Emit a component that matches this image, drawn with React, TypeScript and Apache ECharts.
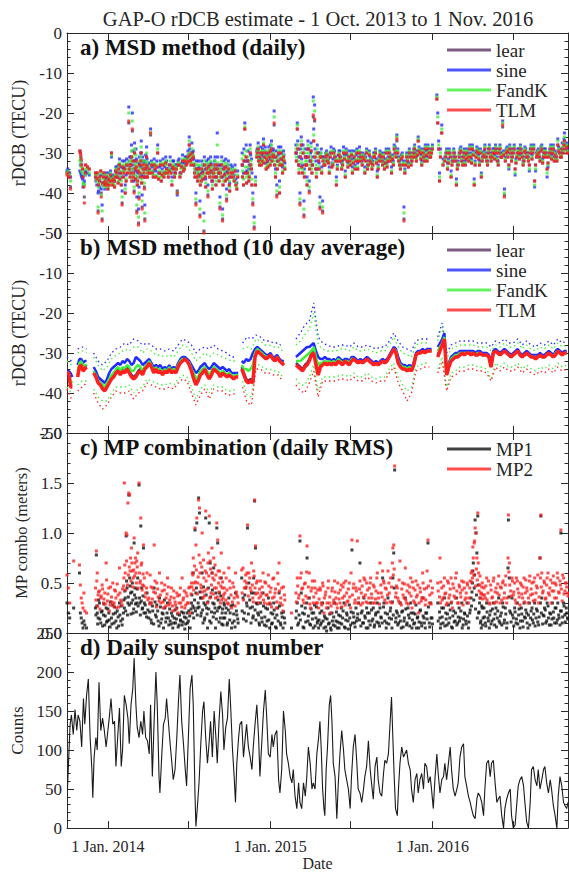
import React, { useEffect, useRef } from 'react';
import * as echarts from 'echarts';

// x values are days since 1 Oct. 2013 (axis ends 1 Nov. 2016)
const X_MAX = 1127;
const xTickDays = [92, 273, 457, 638, 822, 1004];
const xLabelDays = [92, 457, 822];
const xLabelText = ['1 Jan. 2014', '1 Jan. 2015', '1 Jan. 2016'];

const mainTitle = 'GAP-O rDCB estimate - 1 Oct. 2013 to 1 Nov. 2016';
const panelTitles = ['a) MSD method (daily)', 'b) MSD method (10 day average)', 'c) MP combination (daily RMS)', 'd) Daily sunspot number'];

const rdcbNames = ['lear', 'sine', 'FandK', 'TLM'];
const rdcbColors = ['#5a3560', '#1f2bff', '#3ff03a', '#ff1f1f'];
const mpNames = ['MP1', 'MP2'];
const mpColors = ['#111111', '#ff1f1f'];

// panel a: [day, lear, sine, FandK, TLM]
const rdcbDaily = [
  [0,-35,-34.5,-35,-35.5],[4,-35.5,-35,-35.5,-36],[8,-38.5,-36,-37,-39],
  [29,-29.5,-34.5,-32,-29.5],[31,-31,-35,-33,-30.5],[33,-33,-36,-34.5,-33],[36,-36,-38.5,-37.5,-36],[39,-41,-37,-38,-42.5],[42,-33,-34.5,-34,-33],[46,-33.5,-35,-34,-33.5],[50,-34,-35.5,-35,-34],
  [64,-35,-36,-35.5,-35],[67,-36.5,-38,-37,-36.5],[70,-44.5,-40,-43.5,-45],[73,-37,-38.5,-37.5,-37],[76,-34.5,-35.5,-35,-34.5],[79,-46.5,-43,-44.5,-47],[82,-36,-37.5,-36.5,-36],[85,-38,-39,-38.5,-38],
  [88,-37.5,-36,-37,-37.5],[91,-38,-37,-37.5,-38],[94,-36.5,-35,-36,-36.5],[97,-37,-36,-36.5,-37],[100,-30,-31,-30.5,-30],[103,-38,-36.5,-37.5,-38],[106,-37,-36,-36.5,-37],[109,-36,-34.5,-35.5,-36],[112,-35,-33.5,-34.5,-35],[115,-37.5,-36,-37,-37.5],
  [118,-33,-31.5,-32.5,-33],[121,-35,-33.5,-34.5,-35],[124,-42.5,-39.5,-41,-43],[127,-36,-34,-35,-36],[130,-34,-32,-33,-34],[133,-37,-35.5,-36.5,-37],[136,-35,-33,-34,-35],
  [139,-22.5,-18.5,-20,-22],[141,-33,-31,-32,-33],[143,-35,-33,-34,-35],[145,-31,-28,-29.5,-31],[147,-24.5,-20,-22,-24],[149,-36,-34,-35,-36],[151,-39.5,-37,-38.5,-40],[153,-34,-32,-33,-34],[155,-32,-29,-30.5,-32],[157,-44.5,-41,-43,-45],[159,-37,-35,-36,-37],[161,-47.5,-44,-46,-48],[163,-33,-31,-32,-33],[165,-36,-33.5,-35,-36],[167,-30,-27,-28.5,-30],[169,-43.5,-40.5,-42,-44],[171,-34,-32,-33,-34],[173,-35,-32.5,-34,-35],[175,-46.5,-43,-45,-47],[177,-33,-30.5,-32,-33],[179,-31,-28.5,-30,-31],[181,-36,-34,-35,-36],
  [184,-34,-32.5,-33.5,-34],[188,-25.5,-24,-25,-25],[192,-35,-33.5,-34.5,-35],[196,-33,-31.5,-32.5,-33],[200,-36,-34.5,-35.5,-36],[204,-30,-28,-29,-30],[208,-35,-33.5,-34.5,-35],[212,-37,-35,-36,-37],[216,-33,-31.5,-32.5,-33],[220,-35,-33.5,-34.5,-35],[224,-34,-32,-33,-34],[228,-36,-34,-35,-36],
  [232,-33,-31,-32,-33],[236,-38,-36,-37,-38],[240,-34,-32,-33,-34],[244,-35,-33,-34,-35],[248,-39.5,-40.5,-40,-40],[252,-33,-31.5,-32.5,-33],[256,-35,-33,-34,-35],[260,-32,-30.5,-31.5,-32],[264,-34,-32.5,-33.5,-34],[268,-33,-31,-32,-33],
  [272,-31,-29.5,-30.5,-31],[275,-28,-26,-27,-28],[278,-32,-30,-31,-32],[281,-30,-27.5,-29,-30],[284,-31,-29.5,-30.5,-31],
  [287,-35,-33,-34,-35],[290,-42.5,-40,-41.5,-43],[293,-36,-34,-35,-36],[296,-34,-32,-33,-34],[299,-45.5,-42,-44,-46],[302,-37,-35,-36,-37],[305,-35,-33,-34,-35],[308,-49.5,-45,-47,-50],[311,-36,-34,-35,-36],[314,-34,-32,-33,-34],[317,-40.5,-38,-39.5,-41],[320,-35,-33,-34,-35],[323,-33,-31,-32,-33],[326,-37,-35,-36,-37],[329,-36,-34,-35,-36],[332,-34,-32,-33,-34],[335,-38,-36,-37,-38],
  [338,-33,-25,-28,-33],[341,-35,-33,-34,-35],[344,-43.5,-41,-42.5,-44],[347,-36,-34,-35,-36],[350,-46.5,-44,-45.5,-47],[353,-34,-32,-33,-34],[356,-37,-35,-36,-37],[359,-41.5,-39,-40.5,-42],[362,-35,-33,-34,-35],[365,-38,-36,-37,-38],[368,-36,-34,-35,-36],
  [372,-35,-33.5,-34.5,-35],[376,-37,-35.5,-36.5,-37],[380,-38,-36.5,-37.5,-38],[384,-36,-34.5,-35.5,-36],
  [394,-33,-30,-31.5,-33],[397,-38,-35,-36.5,-38],[400,-24,-22.5,-23.5,-24],[403,-31,-28,-29.5,-31],[406,-35,-32,-33.5,-35],[409,-37,-34,-35.5,-37],[412,-30,-28,-29,-30],[415,-34,-31.5,-33,-34],
  [418,-42.5,-40,-41.5,-43],[421,-48.5,-46,-47.5,-49],[424,-38,-36,-37,-38],
  [427,-31,-29.5,-30.5,-31],[430,-29,-27.5,-28.5,-29],[433,-33,-31.5,-32.5,-33],[436,-30,-28.5,-29.5,-30],[439,-32,-30.5,-31.5,-32],[442,-28,-26.5,-27.5,-28],[445,-31,-29.5,-30.5,-31],[448,-34,-32.5,-33.5,-34],[451,-32,-30.5,-31.5,-32],[454,-30,-28.5,-29.5,-30],[457,-33,-31.5,-32.5,-33],[460,-29,-27,-28,-29],[463,-31,-29.5,-30.5,-31],[466,-23,-19.5,-21,-22.5],[469,-36,-34,-35,-36],[472,-40.5,-38,-39.5,-41],[475,-32,-30.5,-31.5,-32],[478,-40,-37,-38.5,-40],[481,-30,-28.5,-29.5,-30],[484,-33,-31.5,-32.5,-33],[487,-31,-29.5,-30.5,-31],[490,-34,-32.5,-33.5,-34],
  [515,-30,-28,-29,-30],[518,-24,-22.5,-23,-24],[521,-33,-31,-32,-33],[524,-42.5,-40,-41.5,-43],[527,-28,-26,-27,-28],[530,-35,-33,-34,-35],[533,-45.5,-42,-44,-46],[536,-31,-29,-30,-31],[539,-33,-31,-32,-33],[542,-29,-27,-28,-29],[545,-39.5,-37,-38.5,-40],[548,-32,-30,-31,-32],[551,-35,-33,-34,-35],[554,-21,-16,-17,-20.5],[557,-22,-18,-19.5,-21.5],[560,-34,-32,-33,-34],[563,-30,-28,-29,-30],
  [566,-32,-30,-31,-32],[569,-43.5,-41,-42.5,-44],[572,-31,-29,-30,-31],[575,-44.5,-42,-43.5,-45],[578,-33,-31,-32,-33],
  [582,-31,-30,-30.5,-31],[586,-32,-30.5,-31.5,-32],[590,-35,-33.5,-34.5,-35],[594,-30,-28.5,-29.5,-30],[598,-33,-31.5,-32.5,-33],[602,-31,-29.5,-30.5,-31],[606,-38,-36,-37,-38],[610,-32,-30.5,-31.5,-32],[614,-31,-29.5,-30.5,-31],[618,-34,-32.5,-33.5,-34],[622,-30,-28.5,-29.5,-30],[626,-36,-34.5,-35.5,-36],[630,-32,-30.5,-31.5,-32],[634,-31,-29.5,-30.5,-31],[638,-33,-31.5,-32.5,-33],[642,-35,-33.5,-34.5,-35],[646,-31,-29.5,-30.5,-31],[650,-32,-30.5,-31.5,-32],[654,-34,-32.5,-33.5,-34],[658,-30,-28.5,-29.5,-30],
  [662,-32,-31,-31.5,-32],[666,-31,-30,-30.5,-31],[670,-35,-33.5,-34.5,-35],[674,-30,-29,-29.5,-30],[678,-33,-32,-32.5,-33],[682,-32,-31,-31.5,-32],[686,-34,-32.5,-33.5,-34],[690,-31,-30,-30.5,-31],[694,-30,-29,-29.5,-30],[698,-36,-34.5,-35.5,-36],[702,-32,-31,-31.5,-32],[706,-31,-30,-30.5,-31],[710,-33,-32,-32.5,-33],[714,-34,-32.5,-33.5,-34],[718,-30,-29,-29.5,-30],[722,-32,-31,-31.5,-32],[726,-31,-30,-30.5,-31],[730,-35,-33.5,-34.5,-35],[734,-33,-32,-32.5,-33],[738,-30,-28.5,-29.5,-30],[742,-27,-25.5,-26,-26.5],
  [746,-32,-31,-31.5,-32],[750,-34,-33,-33.5,-34],[754,-31,-30,-30.5,-31],[758,-46.5,-43.5,-45,-47],[762,-33,-32,-32.5,-33],[766,-32,-31,-31.5,-32],[770,-30,-29,-29.5,-30],[774,-33,-32,-32.5,-33],
  [778,-31,-30,-30.5,-31],[782,-29,-28,-28.5,-29],[786,-32,-31,-31.5,-32],[790,-27,-26,-26.5,-27],[794,-30,-29,-29.5,-30],[798,-33,-32,-32.5,-33],[802,-31,-30,-30.5,-31],[806,-29,-28,-28.5,-29],[810,-32,-31,-31.5,-32],[814,-30,-29,-29.5,-30],[818,-31,-30,-30.5,-31],[822,-29,-28,-28.5,-29],
  [832,-16.5,-15.5,-16,-16.5],[834,-22.5,-20,-21,-22.5],[836,-29,-27,-28,-29],[838,-37,-35,-36,-37],[840,-31,-29,-30,-31],[843,-25,-23,-24,-25],[846,-33,-31.5,-32.5,-33],
  [852,-31,-30,-30.5,-31],[856,-34,-32.5,-33.5,-34],[860,-30,-29,-29.5,-30],[864,-36,-34.5,-35.5,-36],[868,-32,-31,-31.5,-32],[872,-31,-30,-30.5,-31],[876,-38,-36.5,-37.5,-38],[880,-33,-32,-32.5,-33],[884,-30,-29,-29.5,-30],[888,-32,-31,-31.5,-32],[892,-31,-30,-30.5,-31],[896,-33,-32,-32.5,-33],
  [900,-30,-29,-29.5,-30],[904,-32,-31,-31.5,-32],[908,-31,-30,-30.5,-31],[912,-29,-28,-28.5,-29],[916,-38,-36.5,-37.5,-38],[920,-31,-30,-30.5,-31],[924,-30,-29,-29.5,-30],[928,-33,-32,-32.5,-33],[932,-36,-35,-35.5,-36],[936,-31,-30,-30.5,-31],[940,-29,-28,-28.5,-29],[944,-32,-31,-31.5,-32],[948,-30,-29,-29.5,-30],[952,-31,-30,-30.5,-31],
  [956,-31,-30,-30.5,-31],[960,-30,-29,-29.5,-30],[964,-29,-28,-28.5,-29],[968,-32,-31,-31.5,-32],[972,-30,-29,-29.5,-30],[976,-31,-30,-30.5,-31],[980,-23.5,-22,-22.5,-23],[984,-40.5,-39,-40,-41],[988,-30,-29,-29.5,-30],[992,-31,-30,-30.5,-31],[996,-29,-28,-28.5,-29],[1000,-32,-31,-31.5,-32],[1004,-30,-29,-29.5,-30],[1008,-34,-35.5,-35,-34],[1012,-31,-30,-30.5,-31],[1016,-30,-29,-29.5,-30],[1020,-29,-28,-28.5,-29],[1024,-31,-30,-30.5,-31],[1028,-32,-31,-31.5,-32],[1032,-30,-29,-29.5,-30],[1036,-31,-30,-30.5,-31],[1040,-33,-34.5,-34,-33],[1044,-29,-28,-28.5,-29],[1048,-30,-29,-29.5,-30],[1052,-37,-38.5,-38,-37],[1056,-31,-30,-30.5,-31],[1060,-30,-29,-29.5,-30],[1064,-32,-31,-31.5,-32],[1068,-29,-28,-28.5,-29],[1072,-31,-30,-30.5,-31],[1076,-30,-29,-29.5,-30],[1080,-34,-36,-35,-34],[1084,-31,-30,-30.5,-31],[1088,-29,-28,-28.5,-29],[1092,-30,-29,-29.5,-30],[1096,-32,-31,-31.5,-32],[1100,-31,-30,-30.5,-31],[1104,-28,-26.5,-27,-28],[1108,-30,-29,-29.5,-30],[1112,-31,-30,-30.5,-31],[1116,-30,-29,-29.5,-30],
  [1119,-27,-25,-26,-27],[1122,-29,-28,-28.5,-29],[1125,-30,-29,-29.5,-30],
  // in-between days
  [2,-34.5,-34,-34.5,-35],[6,-36,-35,-35.5,-36],[30,-30,-33,-31.5,-30],[32,-32,-35.5,-33.5,-31.5],[35,-34,-36.5,-35,-34],[38,-38,-37.5,-38,-38.5],[41,-35,-35.5,-35.5,-35],
  [65,-36,-37,-36.5,-36],[68,-35,-36.5,-35.5,-35],[71,-38,-39.5,-38.5,-38],[74,-36,-37,-36.5,-36],[77,-40,-39,-40.5,-41],[80,-37.5,-38,-38,-37.5],[83,-35,-36,-35.5,-35],[86,-37,-36.5,-37,-37],[89,-36,-35,-35.5,-36],[92,-39,-37.5,-38.5,-39],[95,-38,-37,-37.5,-38],[98,-35.5,-34.5,-35,-35.5],[101,-37,-36,-36.5,-37],[104,-36.5,-35.5,-36,-36.5],[107,-38.5,-37,-38,-38.5],[110,-34.5,-33.5,-34,-34.5],[113,-36,-35,-35.5,-36],[116,-34,-33,-33.5,-34],[119,-36.5,-35,-36,-36.5],[122,-38,-36,-37,-38],[125,-33.5,-32,-33,-33.5],[128,-35,-33.5,-34.5,-35],[131,-40,-38,-39,-40],[134,-33,-31.5,-32.5,-33],
  [140,-34,-32,-33,-34],[142,-36,-34,-35,-36],[144,-33,-31,-32,-33],[146,-37,-35,-36,-37],[148,-32,-29.5,-31,-32],[150,-35,-33,-34,-35],[152,-30,-27.5,-29,-30],[154,-36.5,-34.5,-35.5,-36.5],[156,-33.5,-31.5,-32.5,-33.5],[158,-38,-36,-37,-38],[160,-34.5,-32.5,-33.5,-34.5],[162,-41,-38.5,-40,-41.5],[164,-35,-33,-34,-35],[166,-32,-30,-31,-32],[168,-37.5,-35.5,-36.5,-37.5],[170,-33,-31,-32,-33],[172,-36,-34,-35,-36],[174,-38.5,-36,-37.5,-39],[176,-34,-32,-33,-34],[178,-36,-34,-35,-36],[180,-33.5,-31.5,-32.5,-33.5],[182,-35,-33,-34,-35],
  [186,-35,-34,-34.5,-35],[190,-33,-32,-32.5,-33],[194,-36,-34.5,-35.5,-36],[198,-34,-33,-33.5,-34],[202,-33.5,-32,-33,-33.5],[206,-36.5,-35,-36,-36.5],[210,-33,-32,-32.5,-33],[214,-35.5,-34,-35,-35.5],[218,-36,-35,-35.5,-36],[222,-32.5,-31,-32,-32.5],[226,-35,-34,-34.5,-35],[230,-34.5,-33,-34,-34.5],[234,-35,-34,-34.5,-35],[238,-33.5,-32,-33,-33.5],[242,-36,-35,-35.5,-36],[246,-34,-33,-33.5,-34],[250,-33,-32,-32.5,-33],[254,-36,-35,-35.5,-36],[258,-33.5,-32.5,-33,-33.5],[262,-34.5,-33.5,-34,-34.5],[266,-32,-31,-31.5,-32],[270,-32.5,-31.5,-32,-32.5],
  [273,-32,-30.5,-31.5,-32],[276,-30.5,-29,-30,-30.5],[279,-33,-31.5,-32.5,-33],[282,-31.5,-30,-31,-31.5],[285,-33,-31.5,-32.5,-33],[288,-36,-34,-35,-36],[291,-34,-32,-33,-34],[294,-37,-35,-36,-37],[297,-35.5,-33.5,-34.5,-35.5],[300,-38,-36,-37,-38],[303,-34,-32,-33,-34],[306,-36.5,-34.5,-35.5,-36.5],[309,-33,-31,-32,-33],[312,-38.5,-36.5,-37.5,-38.5],[315,-35,-33,-34,-35],[318,-33.5,-31.5,-32.5,-33.5],[321,-36,-34,-35,-36],[324,-34.5,-32.5,-33.5,-34.5],[327,-39,-37,-38,-39],[330,-35,-33,-34,-35],[333,-33,-31,-32,-33],[336,-36,-34,-35,-36],[339,-34,-31,-32.5,-34],[342,-37,-35,-36,-37],[345,-35,-33,-34,-35],[348,-33,-31,-32,-33],[351,-38,-36,-37,-38],[354,-35.5,-33.5,-34.5,-35.5],[357,-33.5,-31.5,-32.5,-33.5],[360,-36.5,-34.5,-35.5,-36.5],[363,-34,-32,-33,-34],[366,-39.5,-37.5,-38.5,-39.5],[369,-35,-33,-34,-35],[374,-36,-34.5,-35.5,-36],[378,-34.5,-33,-34,-34.5],[382,-39,-37.5,-38.5,-39],
  [395,-36,-33,-34.5,-36],[398,-32,-29,-30.5,-32],[401,-35,-32,-33.5,-35],[404,-37.5,-34.5,-36,-37.5],[407,-32,-29.5,-31,-32],[410,-36,-33,-34.5,-36],[413,-33,-30.5,-32,-33],[416,-38,-35,-36.5,-38],
  [428,-30,-29,-29.5,-30],[431,-32,-31,-31.5,-32],[434,-31,-30,-30.5,-31],[437,-33,-31.5,-32.5,-33],[440,-30,-29,-29.5,-30],[443,-32.5,-31,-32,-32.5],[446,-30,-28.5,-29.5,-30],[449,-31.5,-30,-31,-31.5],[452,-33.5,-32,-33,-33.5],[455,-31,-29.5,-30.5,-31],[458,-29.5,-28,-29,-29.5],[461,-32,-30.5,-31.5,-32],[464,-30.5,-29,-30,-30.5],[467,-33,-31,-32,-33],[470,-31,-29.5,-30.5,-31],[473,-34,-32,-33,-34],[476,-30,-28.5,-29.5,-30],[479,-33,-31.5,-32.5,-33],[482,-31.5,-30,-31,-31.5],[485,-35,-33.5,-34.5,-35],[488,-32,-30.5,-31.5,-32],
  [516,-32,-30,-31,-32],[519,-29,-27,-28,-29],[522,-35,-33,-34,-35],[525,-31,-29,-30,-31],[528,-33.5,-31.5,-32.5,-33.5],[531,-30,-28,-29,-30],[534,-36,-34,-35,-36],[537,-33,-31,-32,-33],[540,-38,-36,-37,-38],[543,-31,-29,-30,-31],[546,-34,-32,-33,-34],[549,-29.5,-27.5,-28.5,-29.5],[552,-33,-31,-32,-33],[555,-27,-24,-25.5,-27],[558,-31,-29,-30,-31],[561,-36,-34,-35,-36],
  [567,-34,-32.5,-33.5,-34],[570,-31,-30,-30.5,-31],[573,-35,-33.5,-34.5,-35],[576,-32,-31,-31.5,-32],[580,-33,-32,-32.5,-33],[584,-30.5,-29.5,-30,-30.5],[588,-32.5,-31.5,-32,-32.5],[592,-31,-30,-30.5,-31],[596,-33.5,-32.5,-33,-33.5],[600,-30,-29,-29.5,-30],[604,-32,-31,-31.5,-32],[608,-34,-33,-33.5,-34],[612,-30.5,-29.5,-30,-30.5],[616,-32,-31,-31.5,-32],[620,-33,-32,-32.5,-33],[624,-31.5,-30.5,-31,-31.5],[628,-30,-29,-29.5,-30],[632,-33.5,-32.5,-33,-33.5],[636,-32,-31,-31.5,-32],[640,-30.5,-29.5,-30,-30.5],[644,-32.5,-31.5,-32,-32.5],[648,-34,-33,-33.5,-34],[652,-30,-29,-29.5,-30],[656,-32,-31,-31.5,-32],[660,-31,-30,-30.5,-31],
  [664,-33,-32,-32.5,-33],[668,-31.5,-30.5,-31,-31.5],[672,-32,-31,-31.5,-32],[676,-34,-33,-33.5,-34],[680,-30.5,-29.5,-30,-30.5],[684,-32.5,-31.5,-32,-32.5],[688,-33,-32,-32.5,-33],[692,-31,-30,-30.5,-31],[696,-32.5,-31.5,-32,-32.5],[700,-34,-33,-33.5,-34],[704,-30.5,-29.5,-30,-30.5],[708,-32,-31,-31.5,-32],[712,-31,-30,-30.5,-31],[716,-32.5,-31.5,-32,-32.5],[720,-33.5,-32.5,-33,-33.5],[724,-30,-29,-29.5,-30],[728,-32,-31,-31.5,-32],[732,-31.5,-30.5,-31,-31.5],[736,-29,-28,-28.5,-29],[740,-31,-30,-30.5,-31],[744,-30,-29,-29.5,-30],[748,-33,-32,-32.5,-33],[752,-31.5,-30.5,-31,-31.5],[756,-33,-32,-32.5,-33],[760,-35,-34,-34.5,-35],[764,-31,-30,-30.5,-31],[768,-33.5,-32.5,-33,-33.5],[772,-31,-30,-30.5,-31],[776,-32,-31,-31.5,-32],[780,-30,-29,-29.5,-30],[784,-31,-30,-30.5,-31],[788,-30.5,-29.5,-30,-30.5],[792,-29.5,-28.5,-29,-29.5],[796,-31.5,-30.5,-31,-31.5],[800,-30,-29,-29.5,-30],[804,-32,-31,-31.5,-32],[808,-30.5,-29.5,-30,-30.5],[812,-29,-28,-28.5,-29],[816,-31,-30,-30.5,-31],[820,-30,-29,-29.5,-30],
  [850,-32,-31,-31.5,-32],[854,-30,-29,-29.5,-30],[858,-32.5,-31.5,-32,-32.5],[862,-31,-30,-30.5,-31],[866,-33,-32,-32.5,-33],[870,-30,-29,-29.5,-30],[874,-32,-31,-31.5,-32],[878,-34,-33,-33.5,-34],[882,-31,-30,-30.5,-31],[886,-29.5,-28.5,-29,-29.5],[890,-33,-32,-32.5,-33],[894,-30,-29,-29.5,-30],[898,-31.5,-30.5,-31,-31.5],[902,-31,-30,-30.5,-31],[906,-29,-28,-28.5,-29],[910,-32.5,-31.5,-32,-32.5],[914,-30.5,-29.5,-30,-30.5],[918,-33,-32,-32.5,-33],[922,-29.5,-28.5,-29,-29.5],[926,-31.5,-30.5,-31,-31.5],[930,-30,-29,-29.5,-30],[934,-32,-31,-31.5,-32],[938,-30.5,-29.5,-30,-30.5],[942,-31,-30,-30.5,-31],[946,-33,-32,-32.5,-33],[950,-29,-28,-28.5,-29],[954,-32,-31,-31.5,-32],
  [958,-30,-29,-29.5,-30],[962,-31.5,-30.5,-31,-31.5],[966,-30,-29,-29.5,-30],[970,-33,-32,-32.5,-33],[974,-29,-28,-28.5,-29],[978,-31,-30,-30.5,-31],[982,-30.5,-29.5,-30,-30.5],[986,-32,-31,-31.5,-32],[990,-29.5,-28.5,-29,-29.5],[994,-33,-34,-33.5,-33],[998,-30,-29,-29.5,-30],[1002,-31,-30,-30.5,-31],[1006,-29,-28,-28.5,-29],[1010,-32.5,-31.5,-32,-32.5],[1014,-30,-29,-29.5,-30],[1018,-31.5,-30.5,-31,-31.5],[1022,-30,-29,-29.5,-30],[1026,-33,-32,-32.5,-33],[1030,-29.5,-28.5,-29,-29.5],[1034,-31,-30,-30.5,-31],[1038,-32,-31,-31.5,-32],[1042,-30,-29,-29.5,-30],[1046,-31.5,-30.5,-31,-31.5],[1050,-29,-28,-28.5,-29],[1054,-33,-34.5,-34,-33],[1058,-30.5,-29.5,-30,-30.5],[1062,-31,-30,-30.5,-31],[1066,-29.5,-28.5,-29,-29.5],[1070,-32.5,-31.5,-32,-32.5],[1074,-30,-29,-29.5,-30],[1078,-31,-30,-30.5,-31],[1082,-32.5,-33.5,-33,-32.5],[1086,-30,-29,-29.5,-30],[1090,-31.5,-30.5,-31,-31.5],[1094,-29,-28,-28.5,-29],[1098,-30.5,-29.5,-30,-30.5],[1102,-32,-31,-31.5,-32],[1106,-29.5,-28.5,-29,-29.5],[1110,-31,-30,-30.5,-31],[1114,-29,-27.5,-28.5,-29],[1118,-28,-26.5,-27.5,-28],[1124,-28.5,-27.5,-28,-28.5]
];

// panel b: 10 day averages [day, lear, sine, FandK, TLM]; null rows are data gaps
const rdcbAvg = [
  [0,-35,-34.5,-35,-35],[4,-35,-34.5,-35,-35],[8,-38,-35,-37,-38.5],[12,-38,-36,-37.5,-38.5],[18,null,null,null,null],
  [24,-35.5,-33,-34.5,-36],[28,-33,-31.5,-32.5,-33.5],[32,-32.5,-31.5,-32,-33],[36,-34,-32.5,-33.5,-34.5],[40,-33.5,-32,-33,-34],[44,-33,-32,-33,-33.5],[52,null,null,null,null],
  [60,-34.5,-33.5,-34.5,-35],[65,-35.5,-34.5,-35.5,-36],[70,-37,-36,-37,-37.5],[75,-37.5,-36.5,-37.5,-38],[80,-38.5,-37,-38,-39],[85,-39,-37.5,-38.5,-39.5],[90,-38,-36.5,-37.5,-38.5],[95,-37,-35,-36.5,-37.5],[100,-36,-34,-35.5,-36.5],[105,-35.5,-33.5,-35,-36],[110,-34.5,-33,-34,-35],[115,-34,-32.5,-33.5,-34.5],[120,-35,-33,-34.5,-35.5],[125,-34,-32,-33.5,-34.5],[130,-34.5,-32.5,-34,-35],[135,-33.5,-31.5,-33,-34],[140,-34.5,-32,-33.5,-35],[145,-35.5,-33,-34.5,-36],[150,-36,-32.5,-34.5,-36.5],[155,-35.5,-31,-33.5,-36],[160,-34.5,-31.5,-33,-35],[165,-34,-32,-33.5,-34.5],[170,-35,-33,-34.5,-35.5],[175,-33.5,-32.5,-33.5,-34],[180,-33,-32,-33,-33.5],[185,-32,-31.5,-32,-32.5],[190,-33,-32.5,-33,-33.5],[195,-34.5,-33.5,-34.5,-35],[200,-33.5,-33,-33.5,-34],[205,-34.5,-33.5,-34.5,-35],[210,-34,-33,-34,-34.5],[215,-35,-34,-35,-35.5],[220,-34,-33.5,-34,-34.5],[225,-34.5,-34,-34.5,-35],[230,-33.5,-33,-33.5,-34],[235,-34.5,-34,-34.5,-35],[240,-34,-33.5,-34,-34.5],[245,-34.5,-34,-34.5,-35],[250,-33,-32.5,-33,-33.5],[255,-32,-31.5,-32,-32.5],[260,-31.5,-31,-31.5,-32],[265,-31.5,-31,-31.5,-31.5],[270,-32,-31.5,-32,-32],[275,-32.5,-32,-32.5,-33],[280,-34,-33,-34,-34.5],[285,-36,-34,-35,-36.5],[290,-37.5,-35,-36.5,-38],[295,-36.5,-34.5,-36,-37],[300,-35,-33.5,-34.5,-35.5],[305,-34.5,-33,-34,-35],[310,-33.5,-32.5,-33.5,-34],[315,-35,-33.5,-34.5,-35.5],[320,-36,-34,-35.5,-36.5],[325,-35,-33.5,-34.5,-35.5],[330,-33.5,-32.5,-33.5,-34],[335,-34,-33,-34,-34.5],[340,-34.5,-33.5,-34.5,-35],[345,-35.5,-34,-35,-36],[350,-34.5,-33.5,-34.5,-35],[355,-35,-34,-35,-35.5],[360,-35.5,-34.5,-35.5,-36],[365,-35,-34,-35,-35.5],[370,-35.5,-35,-35.5,-36],[375,-36,-35,-36,-36.5],[380,-35.5,-35,-35.5,-36],[385,-35.5,-35,-35.5,-36],[389,null,null,null,null],
  [393,-33.5,-32,-33,-34],[398,-35,-32.5,-34,-35.5],[403,-36.5,-31.5,-34,-37],[408,-37,-32,-34.5,-37.5],[413,-36.5,-31.5,-34,-37],[418,-37,-30,-33,-37.5],[423,-30.5,-29,-30,-31],[428,-29.5,-28.5,-29,-29.5],[433,-30,-29,-29.5,-30],[438,-30.5,-29.5,-30,-30.5],[443,-31,-30,-30.5,-31],[448,-31.5,-30.5,-31,-31.5],[453,-31,-30.5,-31,-31],[458,-30.5,-30,-30.5,-30.5],[463,-31.5,-31,-31.5,-31.5],[468,-32,-31,-31.5,-32],[473,-31,-30.5,-31,-31],[478,-32,-31.5,-32,-32],[483,-32.5,-32,-32.5,-32.5],[488,-33,-32,-32.5,-33],[500,null,null,null,null],
  [515,-32.5,-31,-32,-33],[520,-33,-30.5,-32,-33.5],[525,-33.5,-30,-32,-34],[530,-34,-29.5,-31.5,-34.5],[535,-33,-29,-31,-33.5],[540,-32.5,-28.5,-30.5,-33],[545,-31.5,-28.5,-30,-32],[550,-30,-28,-29.5,-30.5],[555,-29.5,-27.5,-28.5,-30],[560,-32.5,-29.5,-31,-33],[565,-35,-31,-33,-35.5],[570,-33,-31.5,-32.5,-33.5],[575,-32.5,-31.5,-32.5,-33],[580,-32,-31,-32,-32.5],[585,-32.5,-31.5,-32.5,-33],[590,-32,-31.5,-32,-32.5],[595,-32.5,-32,-32.5,-33],[600,-32,-31.5,-32,-32.5],[605,-32.5,-32,-32.5,-33],[610,-31.5,-31,-31.5,-32],[615,-32,-31.5,-32,-32.5],[620,-32.5,-32,-32.5,-33],[625,-32,-31.5,-32,-32],[630,-32,-31.5,-32,-32.5],[635,-32.5,-32,-32.5,-33],[640,-31.5,-31,-31.5,-32],[645,-31.5,-31,-31.5,-31.5],[650,-32,-31.5,-32,-32],[655,-32.5,-32,-32.5,-32.5],[660,-32,-31.5,-32,-32],[665,-32.5,-32,-32.5,-32.5],[670,-32,-31.5,-32,-32],[675,-31.5,-31,-31.5,-31.5],[680,-32,-31.5,-32,-32],[685,-32.5,-32,-32.5,-32.5],[690,-33,-32.5,-33,-33],[695,-32.5,-32,-32.5,-32.5],[700,-33,-32.5,-33,-33],[705,-32.5,-32,-32.5,-32.5],[710,-32,-31.5,-32,-32],[715,-32.5,-32,-32.5,-32.5],[720,-32,-31.5,-32,-32],[725,-31,-30.5,-31,-31],[730,-30,-29.5,-30,-30],[735,-29,-28.5,-29,-29],[740,-30,-29,-29.5,-30],[745,-32.5,-31,-32,-32.5],[750,-33.5,-32.5,-33,-33.5],[755,-34,-33,-33.5,-34],[760,-34,-33,-33.5,-34],[765,-34.5,-33.5,-34,-34.5],[770,-34,-33,-33.5,-34],[775,-34.5,-33.5,-34,-34.5],[780,-33,-32.5,-33,-33],[785,-30.5,-30,-30.5,-30.5],[790,-30,-29.5,-30,-30],[795,-30,-29.5,-30,-30],[800,-29.5,-29,-29.5,-29.5],[805,-30,-29.5,-30,-30],[810,-29.5,-29,-29.5,-29.5],[815,-29.5,-29,-29.5,-29.5],[820,-29.5,-29,-29.5,-29.5],[827,null,null,null,null],
  [834,-30.5,-28.5,-29.5,-31],[839,-29,-27.5,-28.5,-29.5],[844,-28,-26.5,-27.5,-28],[849,-26.5,-25,-26,-26.5],[854,-35.5,-34.5,-35,-35.5],[859,-33.5,-32.5,-33,-33.5],[864,-32,-31,-31.5,-32],[869,-31.5,-30.5,-31,-31.5],[874,-31,-30,-30.5,-31],[879,-31,-30,-30.5,-31],[884,-30.5,-29.5,-30,-30.5],[889,-30,-29.5,-30,-30],[894,-30.5,-29.5,-30,-30.5],[899,-30,-29.5,-30,-30],[904,-30,-29.5,-30,-30],[909,-30.5,-29.5,-30,-30.5],[914,-30,-29.5,-30,-30],[919,-30.5,-30,-30.5,-30.5],[924,-30.5,-29.5,-30,-30.5],[929,-30,-29.5,-30,-30],[934,-30.5,-30,-30.5,-30.5],[939,-30.5,-30,-30.5,-30.5],[944,-30.5,-30,-30.5,-30.5],[949,-31,-30.5,-31,-31],[954,-33.5,-32,-33,-33.5],[959,-30,-29.5,-30,-30],[964,-29.5,-29,-29.5,-29.5],[969,-30,-29.5,-30,-30],[974,-30.5,-30,-30.5,-30.5],[979,-30,-29.5,-30,-30],[984,-29.5,-29,-29.5,-29.5],[989,-30,-29.5,-30,-30],[994,-30.5,-30,-30.5,-30.5],[999,-31,-30.5,-31,-31],[1004,-30.5,-30,-30.5,-30.5],[1009,-30,-29.5,-30,-30],[1014,-29.5,-29,-29.5,-29.5],[1019,-30.5,-30,-30.5,-30.5],[1024,-31,-30.5,-31,-31],[1029,-30.5,-30,-30.5,-30.5],[1034,-30,-29.5,-30,-30],[1039,-30.5,-30,-30.5,-30.5],[1044,-31,-30.5,-31,-31],[1049,-31,-30.5,-31,-31],[1054,-31.5,-30.5,-31,-31.5],[1059,-31,-30.5,-31,-31],[1064,-30.5,-30,-30.5,-30.5],[1069,-31,-30.5,-31,-31],[1074,-31,-30.5,-31,-31],[1079,-30.5,-30,-30.5,-30.5],[1084,-30,-29.5,-30,-30],[1089,-30.5,-30,-30.5,-30.5],[1094,-31,-30.5,-31,-31],[1099,-30.5,-29.5,-30,-30.5],[1104,-29.5,-29,-29.5,-29.5],[1109,-30,-29.5,-30,-30],[1114,-30.5,-30,-30.5,-30.5],[1119,-30,-29.5,-30,-30],[1124,-30,-29.5,-30,-30]
];

// panel b dotted spread: [day, sine upper, FandK upper, FandK lower, TLM lower]
const rdcbSpread = [
  [0,-31,-32,-38.5,-39],[10,-32,-33,-40,-41.5],[18,null,null,null,null],
  [24,-29,-30,-38,-39.5],[34,-28.5,-29.5,-37,-38.5],[44,-29,-30,-37,-37.5],[52,null,null,null,null],
  [60,-30,-31,-39,-40],[70,-32,-33,-41,-42.5],[80,-33,-34.5,-42,-44],[90,-32,-33.5,-42,-43],[100,-30,-31.5,-40,-41],[110,-29,-30.5,-38.5,-39.5],[120,-28.5,-30,-38.5,-40],[130,-27.5,-29,-38.5,-40],[140,-28,-29.5,-38,-39.5],[150,-26.5,-28.5,-40,-41.5],[160,-27,-28.5,-39,-40],[170,-28,-30,-38.5,-39.5],[180,-27.5,-29,-36.5,-37.5],[190,-28,-29.5,-37,-38],[200,-29,-30.5,-37.5,-38.5],[210,-29,-30.5,-38,-39],[220,-29.5,-31,-38,-39],[230,-29,-30.5,-37.5,-38.5],[240,-29.5,-31,-38,-39],[250,-28,-29.5,-36.5,-37.5],[260,-26.5,-28,-35.5,-36.5],[270,-27,-28.5,-36,-37],[280,-28,-30,-38.5,-40],[290,-30,-32,-41.5,-43],[300,-29,-31,-39,-40.5],[310,-28.5,-30,-38,-39],[320,-29,-31,-40,-41.5],[330,-28,-30,-38,-39],[340,-29,-30.5,-38.5,-39.5],[350,-29.5,-31,-38.5,-39.5],[360,-30,-31.5,-39.5,-40.5],[370,-31,-32,-39.5,-40.5],[380,-31,-32,-39,-40],[389,null,null,null,null],
  [395,-27.5,-29,-37,-38.5],[405,-26,-28.5,-40.5,-42.5],[415,-26.5,-29,-41,-43],[425,-25.5,-26.5,-33,-34],[435,-26,-27,-33,-34],[445,-27,-28,-34,-35],[455,-27,-28,-34,-35],[465,-27.5,-28.5,-34.5,-35.5],[475,-27.5,-28.5,-34.5,-35.5],[485,-28.5,-29.5,-36,-37],[500,null,null,null,null],
  [515,-26.5,-28,-36.5,-38],[525,-25,-27,-38,-39.5],[535,-23,-25.5,-38,-40],[545,-22,-24,-36,-37.5],[555,-17.5,-20,-33,-34.5],[565,-26,-28,-39.5,-41],[575,-27.5,-29,-36,-37],[585,-28,-29.5,-36,-37],[595,-28.5,-29.5,-36,-37],[605,-28.5,-29.5,-36,-37],[615,-28,-29,-35.5,-36.5],[625,-28,-29,-35.5,-36.5],[635,-28.5,-29.5,-36,-37],[645,-27.5,-28.5,-35,-36],[655,-28.5,-29.5,-36,-37],[665,-28.5,-29.5,-36,-37],[675,-28,-29,-35,-36],[685,-28.5,-29.5,-36,-37],[695,-29,-30,-36.5,-37.5],[705,-28.5,-29.5,-36,-37],[715,-28.5,-29.5,-36,-37],[725,-27,-28,-34,-35],[735,-25,-26,-32.5,-33.5],[745,-27,-28.5,-36,-37.5],[755,-28.5,-30,-38,-39.5],[765,-29,-30.5,-39.5,-42],[775,-29.5,-31,-38.5,-40],[785,-27,-28,-33.5,-34.5],[795,-26.5,-27.5,-33,-34],[805,-26.5,-27.5,-32.5,-33.5],[815,-26.5,-27.5,-32.5,-33.5],[827,null,null,null,null],
  [834,-26,-27,-34,-35],[844,-22.5,-23.5,-31,-32],[854,-30,-31.5,-38.5,-39.5],[864,-28,-29,-35,-36],[874,-27.5,-28.5,-34.5,-35.5],[884,-27,-28,-33.5,-34.5],[894,-27,-28,-33.5,-34.5],[904,-27,-28,-33,-34],[914,-27,-28,-33,-34],[924,-27.5,-28.5,-33.5,-34.5],[934,-27.5,-28.5,-33.5,-34.5],[944,-27.5,-28.5,-34,-35],[954,-28.5,-29.5,-36.5,-37],[964,-27,-28,-32.5,-33.5],[974,-27.5,-28.5,-33.5,-34.5],[984,-26.5,-27.5,-32.5,-33.5],[994,-27.5,-28.5,-33.5,-34.5],[1004,-27.5,-28.5,-33.5,-34.5],[1014,-26.5,-27.5,-32.5,-33.5],[1024,-28,-29,-34,-35],[1034,-27,-28,-33,-34],[1044,-28,-29,-34,-35],[1054,-28.5,-29.5,-34.5,-35.5],[1064,-27.5,-28.5,-33.5,-34.5],[1074,-28,-29,-34,-35],[1084,-27,-28,-33,-34],[1094,-28,-29,-34,-35],[1104,-26.5,-27.5,-32.5,-33.5],[1114,-27.5,-28.5,-33.5,-34.5],[1124,-27,-28,-33,-34]
];

// panel c: [day, MP1, MP2] (meters)
const mpRms = [
  [0,0.3,0.58],[3,0.2,0.45],[6,0.15,0.3],[15,0.25,0.72],
  [28,0.6,0.68],[30,0.2,0.48],[32,0.15,0.35],[34,0.1,0.3],[36,0.05,0.25],[38,0.12,0.4],[40,0.08,0.22],[44,0.05,0.2],
  [64,0.25,0.45],[66,0.78,0.82],[68,0.2,0.6],[70,0.15,0.38],[73,0.3,0.42],[76,0.1,0.35],[79,0.22,0.48],[82,0.18,0.3],[85,0.08,0.4],[88,0.25,0.7],[91,0.12,0.32],[94,0.2,0.45],[97,0.06,0.28],[100,0.15,0.36],[103,0.28,0.5],[106,0.1,0.3],[109,0.2,0.42],[112,0.05,0.25],[115,0.16,0.38],[118,0.3,0.65],[121,0.12,0.33],[124,0.08,0.28],
  [127,0.2,0.47],[129,0.25,1.5],[131,0.35,0.6],[133,0.97,1.0],[135,0.45,0.98],[137,0.3,1.3],[139,1.38,1.4],[141,0.55,1.38],[143,0.4,0.75],[145,0.3,0.85],[147,0.5,0.62],[149,0.2,0.55],[151,0.9,0.95],[153,0.45,0.7],[155,0.35,0.6],[157,0.3,0.72],[159,0.55,0.8],[162,1.48,1.5],[164,0.3,0.5],[166,1.07,1.15],[168,0.45,0.7],[170,0.25,0.48],[172,0.85,0.88],[174,0.3,0.55],[177,0.2,0.4],[180,0.4,0.6],
  [184,0.15,0.35],[187,0.3,0.58],[190,0.1,0.3],[193,0.22,0.45],[196,0.45,0.88],[199,0.18,0.4],[202,0.28,0.5],[205,0.12,0.36],[208,0.35,0.6],[211,0.1,0.3],[214,0.2,0.42],[217,0.05,0.25],[220,0.25,0.48],[223,0.15,0.35],[226,0.3,0.55],[229,0.08,0.28],
  [232,0.12,0.3],[235,0.2,0.45],[238,0.05,0.22],[241,0.15,0.35],[244,0.1,0.28],[247,0.25,0.4],[250,0.06,0.2],[253,0.18,0.38],[256,0.12,0.3],[259,0.08,0.55],[262,0.2,0.35],[265,0.04,0.25],[268,0.15,0.4],[271,0.1,0.3],[274,0.22,0.45],[277,0.05,0.2],
  [280,0.3,0.5],[282,0.2,0.6],[284,0.6,0.75],[286,0.25,0.5],[288,1.03,1.05],[290,0.4,0.88],[292,1.1,1.15],[294,0.25,0.5],[296,1.35,1.33],[298,1.2,1.25],[300,0.35,0.7],[302,0.2,0.45],[304,0.6,1.0],[306,0.1,0.35],[308,0.3,0.55],[310,0.15,0.42],[312,1.15,1.22],[314,0.25,0.6],[316,0.05,0.3],[318,0.45,0.8],[320,1.1,1.17],[322,0.7,0.72],[324,0.1,0.4],[326,0.6,0.85],[328,0.3,0.55],[330,0.65,0.75],[332,0.2,0.45],[334,0.05,0.35],[337,1.05,1.1],[339,0.9,0.93],[341,0.25,0.5],[343,0.4,0.62],[345,0.15,0.3],[347,0.55,0.8],[349,0.2,0.45],[351,0.08,0.35],[353,0.3,0.6],
  [355,0.15,0.4],[358,0.25,0.55],[361,0.1,0.3],[364,0.35,0.65],[367,0.2,0.45],[370,0.05,0.25],[373,0.28,0.5],[376,0.12,0.35],[379,0.4,0.6],[382,0.18,0.38],[385,0.1,0.3],
  [393,0.55,0.63],[396,0.35,0.65],[399,0.2,0.45],[402,0.45,0.58],[404,0.3,0.5],[406,1.05,1.08],[409,0.5,0.6],[412,0.25,0.45],[415,0.4,0.7],[418,0.15,0.35],[420,0.55,0.62],[422,1.32,1.33],[424,0.85,0.87],[426,0.3,0.5],[429,0.2,0.4],[432,0.1,0.35],
  [435,0.3,0.52],[438,0.15,0.4],[441,0.4,0.6],[444,0.08,0.3],[447,0.25,0.5],[450,0.12,0.38],[453,0.35,0.58],[456,0.05,0.3],[459,0.2,0.45],[462,0.1,0.35],[465,0.3,0.55],[468,0.15,0.4],[471,0.05,0.25],[474,0.25,0.6],[477,0.4,0.7],[480,0.1,0.3],[483,0.2,0.45],[486,0.05,0.22],[489,0.15,0.38],
  [505,0.05,0.2],
  [515,0.15,0.4],[518,0.3,0.55],[521,0.1,0.35],[524,0.92,0.97],[527,0.4,0.6],[530,0.2,0.45],[533,0.05,0.3],[536,0.25,0.5],[540,0.75,0.87],[542,0.12,0.35],[545,0.35,0.6],[548,0.08,0.25],[551,0.2,0.45],[554,0.05,0.3],[557,0.28,0.52],[560,0.15,0.4],[563,0.1,0.3],
  [566,0.05,0.25],[569,0.2,0.45],[572,0.1,0.3],[575,0.3,0.5],[578,0.05,0.2],[581,0.15,0.38],[584,0.02,0.25],[587,0.25,0.45],[590,0.1,0.3],[593,0.05,0.2],[596,0.2,0.42],[599,0.08,0.3],[602,0.3,0.52],[605,0.12,0.35],[608,0.05,0.25],[611,0.18,0.4],[614,0.1,0.3],[617,0.25,0.48],[620,0.15,0.35],[623,0.3,0.5],[626,0.05,0.28],[629,0.2,0.4],[632,0.12,0.32],[635,0.28,0.5],[638,0.08,0.25],[641,0.83,0.93],[644,0.2,0.45],[647,0.1,0.3],[650,0.25,0.45],[653,0.15,0.92],
  [656,0.3,0.35],[659,0.7,0.52],[662,0.2,0.4],[665,0.1,0.3],[668,0.35,0.55],[671,0.15,0.38],[674,0.25,0.5],[677,0.05,0.3],[680,0.2,0.45],[683,0.3,0.55],[686,0.12,0.35],[689,0.25,0.48],[692,0.08,0.3],[695,0.2,0.42],[698,0.3,0.6],[701,0.1,0.35],[704,0.25,0.7],[707,0.15,0.4],[710,0.55,0.62],[713,0.3,0.5],[716,0.2,0.45],[719,0.1,0.3],[722,0.35,0.62],[725,0.15,0.4],[728,0.25,0.55],[731,0.05,0.3],[733,0.55,0.85],[735,0.8,0.88],[737,1.63,1.67],[740,0.15,0.4],
  [743,0.2,0.45],[746,0.1,0.32],[749,0.3,0.72],[752,0.05,0.28],[755,0.22,0.5],[758,0.12,0.35],[761,0.35,0.65],[764,0.08,0.3],[767,0.25,0.48],[770,0.15,0.4],[773,0.3,0.55],[776,0.05,0.25],[779,0.2,0.45],[782,0.1,0.3],[785,0.28,0.52],[788,0.15,0.38],[791,0.05,0.2],[794,0.22,0.45],[797,0.1,0.32],[800,0.35,0.6],[803,0.15,0.35],[806,0.05,0.28],[809,0.2,0.45],[812,0.9,0.93],[815,0.1,0.3],[818,0.3,0.52],[821,0.15,0.4],
  [834,0.3,0.5],[839,0.15,0.75],[840,0.05,0.3],[843,0.25,0.45],[846,0.1,0.35],[849,0.35,0.55],[852,0.2,0.4],[855,0.08,0.3],[858,0.28,0.5],[861,0.15,0.38],[864,0.3,0.55],[867,0.05,0.25],[870,0.22,0.45],[873,0.12,0.35],[876,0.35,0.6],[879,0.1,0.3],[882,0.25,0.48],[885,0.15,0.4],[888,0.3,0.52],[891,0.08,0.28],[894,0.2,0.45],[897,0.12,0.35],[900,0.3,0.5],[903,0.05,0.3],[906,0.2,0.45],
  [909,0.35,0.6],[912,0.5,0.55],[914,0.7,0.75],[916,0.45,0.9],[918,1.13,1.05],[920,1.0,1.0],[922,0.8,0.75],[924,1.17,1.2],[926,0.2,0.6],[928,0.3,0.48],[930,0.1,0.35],[932,0.05,0.4],[934,0.25,0.5],[936,0.15,0.38],
  [938,0.25,0.45],[941,0.1,0.35],[944,0.3,0.55],[947,0.15,0.4],[950,0.05,0.3],[953,0.22,0.48],[956,0.12,0.35],[959,0.3,0.52],[962,0.08,0.3],[965,0.25,0.45],[968,0.15,0.4],[971,0.35,0.57],[974,0.1,0.3],[977,0.2,0.45],[980,0.3,0.5],[983,0.1,0.35],[986,0.25,0.48],[989,0.05,0.3],[992,0.65,0.75],[993,1.13,1.18],[995,0.55,0.7],[998,0.2,0.42],[1001,0.35,0.55],[1004,0.15,0.38],[1007,0.25,0.5],[1010,0.1,0.3],[1013,0.3,0.52],[1016,0.18,0.4],[1019,0.05,0.28],[1022,0.25,0.48],[1025,0.12,0.35],[1028,0.3,0.55],[1031,0.15,0.4],[1034,0.2,0.45],[1037,0.05,0.3],[1040,0.3,0.52],[1043,0.15,0.38],[1046,0.25,0.5],[1049,0.1,0.32],[1052,0.3,0.55],[1055,0.15,0.4],[1058,0.22,0.45],[1061,0.08,0.3],[1064,0.75,0.75],[1066,1.17,1.18],[1068,0.35,0.6],[1071,0.18,0.42],[1074,0.25,0.5],[1077,0.1,0.35],[1080,0.3,0.55],[1083,0.15,0.4],[1086,0.2,0.45],[1089,0.08,0.3],[1092,0.3,0.5],[1095,0.15,0.42],[1098,0.25,0.5],[1101,0.1,0.35],[1104,0.3,0.55],[1107,0.15,0.4],[1110,0.22,0.48],[1111,1.0,1.03],[1114,0.1,0.32],[1117,0.3,0.55],[1120,0.18,0.42],[1123,0.25,0.5],[1126,0.15,0.4],
  // in-between days
  [65,0.18,0.33],[67,0.27,0.52],[69,0.09,0.27],[71,0.33,0.41],[74,0.14,0.24],[77,0.21,0.37],[80,0.07,0.44],[83,0.29,0.34],[86,0.17,0.29],[89,0.11,0.53],[92,0.24,0.39],[95,0.13,0.22],[98,0.31,0.46],[101,0.09,0.31],[104,0.19,0.27],[107,0.26,0.43],[110,0.12,0.35],[113,0.22,0.49],[116,0.07,0.26],[119,0.18,0.4],[122,0.27,0.31],[125,0.14,0.44],
  [128,0.33,0.55],[130,0.42,0.68],[132,0.22,0.43],[134,0.52,0.72],[136,0.18,0.48],[138,0.36,0.58],[140,0.28,0.66],[142,0.47,0.62],[144,0.19,0.52],[146,0.41,0.7],[148,0.33,0.46],[150,0.24,0.63],[152,0.38,0.57],[154,0.29,0.75],[156,0.21,0.5],[158,0.44,0.66],[160,0.27,0.45],[163,0.35,0.6],[165,0.18,0.52],[167,0.32,0.68],[169,0.24,0.43],[171,0.37,0.59],[173,0.2,0.47],[176,0.28,0.36],[179,0.16,0.45],[182,0.23,0.33],
  [186,0.21,0.29],[189,0.13,0.46],[192,0.27,0.34],[195,0.09,0.41],[198,0.31,0.52],[201,0.16,0.26],[204,0.22,0.44],[207,0.07,0.32],[210,0.26,0.38],[213,0.14,0.5],[216,0.19,0.31],[219,0.33,0.43],[222,0.11,0.27],[225,0.2,0.39],[228,0.15,0.46],[231,0.24,0.33],[234,0.09,0.36],[237,0.17,0.27],[240,0.1,0.42],[243,0.23,0.31],[246,0.14,0.24],[249,0.19,0.37],[252,0.08,0.3],[255,0.13,0.45],[258,0.21,0.26],[261,0.11,0.33],[264,0.16,0.42],[267,0.09,0.28],[270,0.2,0.37],[273,0.12,0.3],[276,0.17,0.46],[279,0.24,0.39],
  [281,0.38,0.46],[283,0.27,0.58],[285,0.15,0.43],[287,0.33,0.67],[289,0.22,0.51],[291,0.45,0.63],[293,0.18,0.39],[295,0.3,0.56],[297,0.26,0.78],[299,0.41,0.6],[301,0.17,0.48],[303,0.35,0.66],[305,0.23,0.41],[307,0.46,0.73],[309,0.13,0.37],[311,0.28,0.62],[313,0.38,0.52],[315,0.19,0.44],[317,0.31,0.7],[319,0.24,0.57],[321,0.12,0.35],[323,0.36,0.64],[325,0.21,0.48],[327,0.43,0.6],[329,0.16,0.39],[331,0.29,0.53],[333,0.25,0.68],[335,0.4,0.58],[336,0.14,0.45],[338,0.22,0.36],[340,0.33,0.62],[342,0.11,0.41],[344,0.26,0.55],[346,0.37,0.47],[348,0.09,0.33],[350,0.24,0.51],[352,0.15,0.38],[354,0.28,0.45],
  [357,0.2,0.33],[360,0.08,0.43],[363,0.23,0.29],[366,0.13,0.52],[369,0.27,0.38],[372,0.1,0.31],[375,0.19,0.46],[378,0.06,0.27],[381,0.22,0.41],[384,0.14,0.36],
  [394,0.22,0.4],[397,0.14,0.33],[400,0.38,0.52],[403,0.12,0.46],[405,0.27,0.6],[408,0.19,0.37],[411,0.33,0.55],[414,0.1,0.42],[417,0.26,0.48],[419,0.17,0.31],[421,0.4,0.57],[423,0.23,0.45],[425,0.13,0.39],[428,0.29,0.52],[431,0.18,0.3],[433,0.08,0.44],
  [436,0.21,0.37],[439,0.11,0.46],[442,0.27,0.33],[445,0.16,0.51],[448,0.07,0.38],[451,0.24,0.29],[454,0.13,0.47],[457,0.29,0.41],[460,0.09,0.26],[463,0.19,0.54],[466,0.23,0.36],[469,0.06,0.44],[472,0.18,0.31],[475,0.12,0.49],[478,0.27,0.42],[481,0.08,0.35],[484,0.16,0.28],[487,0.21,0.46],[490,0.1,0.33],
  [516,0.22,0.31],[519,0.08,0.47],[522,0.18,0.38],[525,0.13,0.55],[528,0.27,0.44],[531,0.06,0.33],[534,0.19,0.49],[537,0.11,0.37],[539,0.3,0.61],[543,0.17,0.46],[546,0.09,0.29],[549,0.24,0.42],[552,0.14,0.52],[555,0.2,0.36],[558,0.07,0.45],[561,0.26,0.3],[564,0.12,0.43],
  [567,0.13,0.34],[570,0.08,0.43],[573,0.22,0.28],[576,0.12,0.47],[579,0.17,0.35],[582,0.06,0.41],[585,0.14,0.3],[588,0.09,0.52],[591,0.19,0.36],[594,0.03,0.27],[597,0.12,0.45],[600,0.16,0.33],[603,0.07,0.41],[606,0.21,0.29],[609,0.11,0.5],[612,0.05,0.34],[615,0.17,0.43],[618,0.09,0.26],[621,0.22,0.46],[624,0.06,0.37],[627,0.13,0.52],[630,0.18,0.31],[633,0.04,0.44],[636,0.15,0.36],[639,0.21,0.6],[642,0.1,0.38],[645,0.16,0.49],[648,0.06,0.33],[651,0.12,0.42],[654,0.19,0.3],
  [658,0.13,0.44],[661,0.07,0.28],[664,0.22,0.47],[667,0.1,0.36],[670,0.17,0.53],[673,0.05,0.31],[676,0.2,0.43],[679,0.12,0.35],[682,0.08,0.5],[685,0.23,0.39],[688,0.14,0.3],[691,0.06,0.46],[694,0.18,0.34],[697,0.11,0.55],[700,0.21,0.4],[703,0.07,0.29],[706,0.16,0.48],[709,0.1,0.36],[712,0.26,0.52],[715,0.12,0.33],[718,0.05,0.44],[721,0.19,0.38],[724,0.09,0.5],[727,0.22,0.31],[730,0.14,0.46],[732,0.31,0.7],[734,0.18,0.58],[736,0.45,0.64],[739,0.11,0.36],[741,0.22,0.47],
  [744,0.08,0.35],[747,0.17,0.53],[750,0.12,0.3],[753,0.21,0.44],[756,0.06,0.38],[759,0.15,0.49],[762,0.24,0.33],[765,0.1,0.42],[768,0.18,0.29],[771,0.07,0.46],[774,0.2,0.37],[777,0.13,0.51],[780,0.09,0.32],[783,0.19,0.43],[786,0.05,0.36],[789,0.16,0.48],[792,0.11,0.3],[795,0.23,0.41],[798,0.07,0.35],[801,0.17,0.5],[804,0.1,0.44],[807,0.2,0.33],[810,0.14,0.62],[813,0.26,0.47],[816,0.06,0.38],[819,0.15,0.29],[822,0.09,0.45],
  [835,0.12,0.42],[838,0.21,0.36],[841,0.09,0.51],[844,0.16,0.33],[847,0.25,0.47],[850,0.07,0.39],[853,0.14,0.28],[856,0.19,0.52],[859,0.1,0.35],[862,0.23,0.44],[865,0.06,0.31],[868,0.17,0.49],[871,0.11,0.37],[874,0.2,0.55],[877,0.08,0.42],[880,0.16,0.3],[883,0.12,0.46],[886,0.22,0.36],[889,0.05,0.43],[892,0.14,0.51],[895,0.19,0.33],[898,0.09,0.4],[901,0.17,0.48],[904,0.11,0.35],[907,0.23,0.52],
  [910,0.27,0.51],[911,0.41,0.62],[913,0.62,0.86],[915,0.33,0.58],[917,0.58,0.92],[919,0.24,0.47],[921,0.38,0.64],[923,0.15,0.53],[925,0.48,0.7],[927,0.21,0.42],[929,0.35,0.57],[931,0.12,0.39],[933,0.27,0.46],[935,0.08,0.34],
  [939,0.16,0.38],[942,0.07,0.47],[945,0.21,0.33],[948,0.12,0.52],[951,0.18,0.29],[954,0.09,0.43],[957,0.24,0.36],[960,0.14,0.55],[963,0.19,0.41],[966,0.06,0.31],[969,0.22,0.49],[972,0.12,0.38],[975,0.17,0.46],[978,0.08,0.33],[981,0.26,0.52],[984,0.13,0.4],[987,0.19,0.57],[990,0.1,0.35],[994,0.36,0.61],[996,0.22,0.48],[999,0.11,0.37],[1002,0.18,0.52],[1005,0.07,0.41],[1008,0.21,0.33],[1011,0.14,0.55],[1014,0.09,0.44],[1017,0.24,0.36],[1020,0.12,0.5],[1023,0.19,0.39],[1026,0.06,0.46],[1029,0.16,0.31],[1032,0.23,0.53],[1035,0.1,0.42],[1038,0.18,0.35],[1041,0.08,0.57],[1044,0.22,0.44],[1047,0.13,0.39],[1050,0.19,0.51],[1053,0.07,0.33],[1056,0.24,0.47],[1059,0.11,0.58],[1062,0.16,0.36],[1065,0.3,0.55],[1067,0.2,0.46],[1070,0.09,0.4],[1073,0.17,0.52],[1076,0.23,0.34],[1079,0.12,0.48],[1082,0.27,0.6],[1085,0.08,0.38],[1088,0.19,0.53],[1091,0.14,0.42],[1094,0.21,0.57],[1097,0.1,0.35],[1100,0.25,0.48],[1103,0.13,0.6],[1106,0.18,0.41],[1109,0.08,0.52],[1112,0.22,0.44],[1115,0.16,0.58],[1118,0.27,0.39],[1121,0.11,0.5],[1124,0.2,0.46],[1127,0.14,0.37]
];

// panel d: [day, daily sunspot number]
const sunspot = [
  [1,50],[7,133],[10,145],[14,120],[18,152],[22,125],[25,145],[29,137],[33,104],[37,166],[40,133],[44,170],[48,191],[52,116],[56,75],[58,39],[61,91],[65,116],[68,100],[72,187],[76,125],[80,141],[84,125],[88,104],[92,125],[95,141],[99,166],[103,133],[107,137],[110,79],[114,116],[118,154],[122,79],[125,100],[129,170],[133,158],[137,141],[140,108],[144,158],[148,179],[151,218],[155,158],[158,129],[162,116],[166,137],[170,120],[173,150],[177,116],[181,112],[185,95],[188,158],[192,66],[196,137],[200,200],[203,158],[207,66],[209,45],[213,91],[217,133],[221,141],[224,166],[228,137],[232,108],[236,83],[239,62],[243,75],[247,116],[251,166],[254,196],[258,137],[262,108],[266,75],[269,54],[273,116],[277,179],[281,196],[284,158],[288,41],[290,2],[293,25],[297,58],[301,108],[305,150],[308,162],[312,116],[316,83],[320,112],[323,137],[327,91],[331,150],[335,116],[338,83],[342,137],[346,175],[350,145],[353,100],[357,129],[361,141],[365,191],[368,158],[372,104],[376,66],[379,33],[382,83],[386,116],[389,133],[393,137],[397,91],[401,116],[404,133],[408,104],[412,91],[416,75],[419,104],[423,133],[427,158],[431,116],[434,66],[438,108],[442,150],[446,177],[449,145],[453,95],[457,91],[461,120],[464,104],[468,120],[472,125],[476,62],[479,45],[483,75],[487,150],[491,125],[494,95],[498,83],[502,66],[506,58],[509,75],[513,41],[517,25],[521,58],[524,33],[528,25],[532,58],[536,41],[539,62],[543,104],[547,83],[551,50],[554,58],[558,50],[562,95],[566,116],[569,137],[572,100],[575,50],[578,25],[580,16],[583,75],[586,104],[590,158],[593,170],[596,137],[599,83],[603,66],[607,12],[610,54],[614,95],[618,125],[622,100],[625,75],[629,62],[633,50],[637,25],[640,66],[644,104],[648,120],[652,83],[655,50],[659,45],[663,33],[667,50],[670,66],[674,79],[678,112],[682,75],[685,58],[689,37],[693,79],[697,91],[700,62],[704,45],[708,41],[712,70],[715,87],[719,83],[723,95],[727,137],[730,168],[733,116],[736,66],[739,25],[743,16],[746,54],[749,83],[753,104],[757,91],[760,95],[764,100],[768,83],[772,75],[775,50],[779,33],[783,62],[787,70],[790,45],[794,62],[798,70],[802,50],[805,83],[809,79],[813,58],[817,66],[820,50],[824,25],[828,66],[832,95],[835,70],[839,45],[843,62],[847,66],[850,83],[854,62],[858,83],[862,104],[865,75],[869,50],[873,41],[877,50],[880,58],[884,91],[888,104],[892,108],[895,66],[899,54],[903,41],[907,33],[910,25],[914,16],[918,12],[922,37],[925,45],[929,41],[933,33],[937,16],[940,50],[944,83],[948,87],[952,66],[955,83],[959,87],[963,58],[967,33],[970,37],[974,41],[978,16],[982,0],[985,25],[989,37],[993,45],[997,50],[1000,16],[1004,0],[1008,4],[1012,33],[1015,54],[1019,62],[1023,66],[1027,54],[1030,33],[1034,8],[1038,0],[1042,33],[1045,75],[1049,79],[1053,62],[1057,54],[1060,75],[1064,50],[1068,62],[1072,75],[1075,79],[1079,58],[1083,45],[1087,62],[1090,50],[1094,29],[1098,16],[1102,0],[1105,41],[1109,66],[1113,54],[1117,33],[1120,29],[1124,25],[1127,33]
];

const FONT = '"Liberation Serif", "Times New Roman", serif';
const AX = '#2a2a2a';
const TXT = '#262626';
const GRID_TOPS = [33, 233, 433, 633];
const GRID_H = 200;
const GRID_LEFT = 67;
const GRID_W = 501;

const col = (rows: any[], k: number) => rows.map((r) => [r[0], r[k] === null ? '-' : r[k]]);

function xAxesFor(gi: number) {
  const base: any = {
    type: 'value', gridIndex: gi, min: 0, max: X_MAX, splitLine: { show: false },
    axisLine: { show: true, onZero: false, lineStyle: { color: AX, width: 1 } },
    axisTick: { show: true, inside: true, length: 7, customValues: xTickDays, lineStyle: { color: AX } },
  };
  const bottom: any = {
    ...base, position: 'bottom',
    axisLabel: {
      show: gi === 3, customValues: xLabelDays, margin: 10,
      fontFamily: FONT, fontSize: 16, color: TXT,
      formatter: (v: number) => { const i = xLabelDays.indexOf(Math.round(v)); return i >= 0 ? xLabelText[i] : ''; },
    },
  };
  if (gi === 3) {
    bottom.name = 'Date';
    bottom.nameLocation = 'middle';
    bottom.nameGap = 26;
    bottom.nameTextStyle = { fontFamily: FONT, fontSize: 16, color: TXT };
  }
  const top: any = { ...base, position: 'top', axisLabel: { show: false } };
  return [bottom, top];
}

function yAxesFor(gi: number, min: number, max: number, interval: number, name: string, nameGap: number, nameSize: number, fmt?: (v: number) => string) {
  const base: any = {
    type: 'value', gridIndex: gi, min, max, interval, splitLine: { show: false },
    axisLine: { show: true, onZero: false, lineStyle: { color: AX, width: 1 } },
    axisTick: { show: true, inside: true, length: 7, lineStyle: { color: AX } },
    minorTick: { show: true, splitNumber: 5, length: 3.5, lineStyle: { color: AX } },
  };
  return [
    {
      ...base, position: 'left', name, nameLocation: 'middle', nameGap, nameRotate: 90,
      nameTextStyle: { fontFamily: FONT, color: TXT, fontSize: nameSize },
      axisLabel: { show: true, showMinLabel: true, showMaxLabel: true, margin: 5, fontFamily: FONT, fontSize: 17, color: TXT, formatter: fmt },
    },
    { ...base, position: 'right', axisLabel: { show: false } },
  ];
}

function buildOption() {
  const grid = GRID_TOPS.map((t) => ({ left: GRID_LEFT, top: t, width: GRID_W, height: GRID_H, containLabel: false }));
  const xAxis = [0, 1, 2, 3].flatMap((g) => xAxesFor(g));
  const yAxis = [
    ...yAxesFor(0, -50, 0, 10, 'rDCB (TECU)', 34, 18),
    ...yAxesFor(1, -50, 0, 10, 'rDCB (TECU)', 34, 18),
    ...yAxesFor(2, 0, 2, 0.5, 'MP combo (meters)', 34, 16.5, (v: number) => v.toFixed(1)),
    ...yAxesFor(3, 0, 250, 50, 'Counts', 39, 17),
  ];

  const series: any[] = [];
  // panel a scatter
  rdcbNames.forEach((n, i) => {
    series.push({
      type: 'scatter', name: n, xAxisIndex: 0, yAxisIndex: 0, data: col(rdcbDaily, i + 1),
      symbol: 'rect', symbolSize: 3, itemStyle: { color: rdcbColors[i] }, silent: true,
    });
  });
  // panel b dotted spread
  const spreadColors = [rdcbColors[1], rdcbColors[2], rdcbColors[2], rdcbColors[3]];
  const spreadNames = ['sine spread up', 'FandK spread up', 'FandK spread low', 'TLM spread low'];
  spreadColors.forEach((c, i) => {
    series.push({
      type: 'line', name: spreadNames[i], xAxisIndex: 2, yAxisIndex: 2, data: col(rdcbSpread, i + 1),
      showSymbol: false, connectNulls: false, lineStyle: { color: c, width: 1.3, type: [1.5, 3] }, silent: true,
    });
  });
  // panel b averages
  const widths = [2.5, 2.5, 2.5, 3.5];
  rdcbNames.forEach((n, i) => {
    series.push({
      type: 'line', name: n, xAxisIndex: 2, yAxisIndex: 2, data: col(rdcbAvg, i + 1),
      showSymbol: false, connectNulls: false, lineStyle: { color: rdcbColors[i], width: widths[i] },
      itemStyle: { color: rdcbColors[i] }, silent: true,
    });
  });
  // panel c
  mpNames.forEach((n, i) => {
    series.push({
      type: 'scatter', name: n, xAxisIndex: 4, yAxisIndex: 4, data: col(mpRms, i + 1),
      symbol: 'rect', symbolSize: 3, itemStyle: { color: mpColors[i] }, silent: true,
    });
  });
  // panel d
  series.push({
    type: 'line', name: 'Sunspot number', xAxisIndex: 6, yAxisIndex: 6, data: sunspot,
    showSymbol: false, lineStyle: { color: '#1a1a1a', width: 1.1 }, silent: true,
  });

  const legendBase = {
    orient: 'vertical', left: 447, itemWidth: 44, itemHeight: 3, itemGap: 0, icon: 'rect', padding: 0,
    selectedMode: false, textStyle: { fontFamily: FONT, fontSize: 19, color: TXT, lineHeight: 20 },
  };
  const legend = [
    { ...legendBase, top: GRID_TOPS[0] + 7, data: rdcbNames },
    { ...legendBase, top: GRID_TOPS[1] + 7, data: rdcbNames },
    { ...legendBase, top: GRID_TOPS[2] + 6, data: mpNames },
  ];

  const graphic: any[] = [
    {
      type: 'text', x: 318, y: 19, silent: true,
      style: { text: mainTitle, fontFamily: FONT, fontSize: 20.5, fill: TXT, textAlign: 'center', textVerticalAlign: 'middle', align: 'center', verticalAlign: 'middle' },
    },
    ...panelTitles.map((t, i) => ({
      type: 'text', x: 80, y: GRID_TOPS[i] + 14, silent: true,
      style: { text: t, fontFamily: FONT, fontSize: 23, fontWeight: 'bold', fill: '#111', textAlign: 'left', textVerticalAlign: 'middle', align: 'left', verticalAlign: 'middle' },
    })),
  ];

  return { animation: false, backgroundColor: '#ffffff', grid, xAxis, yAxis, series, legend, graphic };
}

export default function App() {
  const ref = useRef<HTMLDivElement>(null);
  useEffect(() => {
    if (!ref.current) return;
    const chart = echarts.init(ref.current, undefined, { renderer: 'svg' });
    chart.setOption(buildOption() as any);
    return () => chart.dispose();
  }, []);
  return <div ref={ref} style={{ position: 'absolute', left: 0, top: 0, width: 569, height: 872, background: '#fff' }} />;
}
